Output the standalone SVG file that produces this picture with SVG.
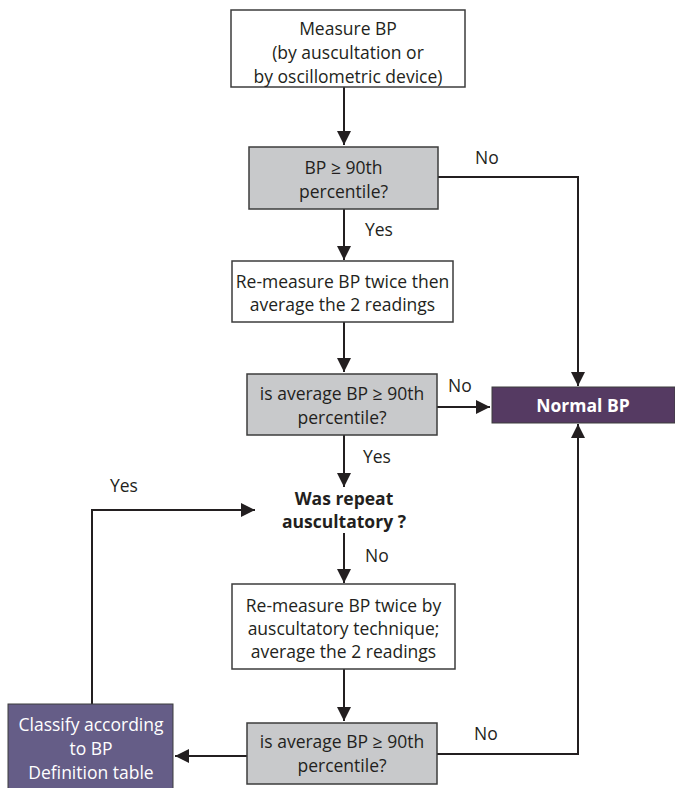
<svg xmlns="http://www.w3.org/2000/svg" width="675" height="788" viewBox="0 0 675 788">
<style>
text{font-family:"Open Sans","DejaVu Sans","Liberation Sans",sans-serif;font-size:17.5px;fill:#231f20;text-anchor:middle}
.box{fill:#ffffff;stroke:#3c3c3c;stroke-width:1.5}
.gray{fill:#c8c9cb;stroke:#3c3c3c;stroke-width:1.5}
.purple{fill:#553a62;stroke:#3c3c3c;stroke-width:1}
.slate{fill:#655d87;stroke:#3c3c3c;stroke-width:1}
.w{fill:#ffffff}
.b{font-weight:bold}
.lbl{text-anchor:start}
.c{fill:none;stroke:#231f20;stroke-width:2}
</style>
<defs>
<marker id="ahl" viewBox="0 0 10 10" refX="10" refY="5" markerWidth="14" markerHeight="14" markerUnits="userSpaceOnUse" orient="auto">
<path d="M0,0 L10,5 L0,10 z" fill="#231f20"/>
</marker>
</defs>
<g id="connectors">
<path class="c" d="M344,87 V145" marker-end="url(#ahl)"/>
<path class="c" d="M344,209 V260" marker-end="url(#ahl)"/>
<path class="c" d="M344,322 V372" marker-end="url(#ahl)"/>
<path class="c" d="M344,435 V487" marker-end="url(#ahl)"/>
<path class="c" d="M344,533 V583" marker-end="url(#ahl)"/>
<path class="c" d="M344,669 V721" marker-end="url(#ahl)"/>
<path class="c" d="M438,177 H578 V386" marker-end="url(#ahl)"/>
<path class="c" d="M437,407 H490" marker-end="url(#ahl)"/>
<path class="c" d="M437,754 H578 V424" marker-end="url(#ahl)"/>
<path class="c" d="M247,756 H175" marker-end="url(#ahl)"/>
<path class="c" d="M92,704 V510 H255" marker-end="url(#ahl)"/>
<text class="lbl" x="475" y="164">No</text>
<text class="lbl" x="365" y="236">Yes</text>
<text class="lbl" x="448" y="392">No</text>
<text class="lbl" x="363" y="463">Yes</text>
<text class="lbl" x="110" y="492">Yes</text>
<text class="lbl" x="365" y="562">No</text>
<text class="lbl" x="474" y="740">No</text>
</g>
<g id="measure">
<rect class="box" x="231" y="10" width="234" height="77"/>
<text x="348" y="35">Measure BP</text>
<text x="348" y="59">(by auscultation or</text>
<text x="348" y="83">by oscillometric device)</text>
</g>
<g id="check1">
<rect class="gray" x="249" y="147" width="189" height="62"/>
<text x="343.5" y="174">BP ≥ 90th</text>
<text x="343.5" y="198">percentile?</text>
</g>
<g id="remeasure1">
<rect class="box" x="232" y="261" width="221" height="61"/>
<text x="342.5" y="288">Re-measure BP twice then</text>
<text x="342.5" y="311">average the 2 readings</text>
</g>
<g id="check2">
<rect class="gray" x="247" y="374" width="190" height="61"/>
<text x="342" y="400">is average BP ≥ 90th</text>
<text x="342" y="424">percentile?</text>
</g>
<g id="normal">
<rect class="purple" x="492" y="387" width="183" height="36"/>
<text class="w b" x="583" y="412">Normal BP</text>
</g>
<g id="wasrepeat">
<text class="b" x="344" y="505">Was repeat</text>
<text class="b" x="344" y="528">auscultatory ?</text>
</g>
<g id="remeasure2">
<rect class="box" x="232" y="584" width="223" height="85"/>
<text x="343.5" y="612">Re-measure BP twice by</text>
<text x="343.5" y="635">auscultatory technique;</text>
<text x="343.5" y="658">average the 2 readings</text>
</g>
<g id="check3">
<rect class="gray" x="247" y="723" width="190" height="61"/>
<text x="342" y="748">is average BP ≥ 90th</text>
<text x="342" y="772">percentile?</text>
</g>
<g id="classify">
<rect class="slate" x="8" y="704" width="165" height="90"/>
<text class="w" x="91" y="731">Classify according</text>
<text class="w" x="91" y="755">to BP</text>
<text class="w" x="91" y="779">Definition table</text>
</g>
</svg>
